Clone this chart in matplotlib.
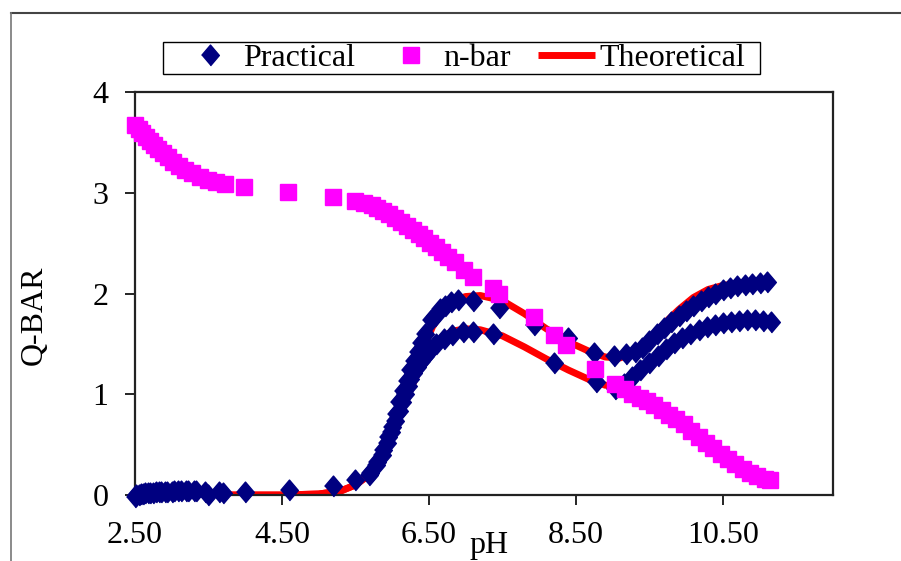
#!/usr/bin/env python
#importing libraries
import matplotlib
matplotlib.use('Agg')
import matplotlib.pyplot as plt
from matplotlib.lines import Line2D
from matplotlib.patches import Rectangle

plt.rcParams['font.family'] = ['Liberation Serif', 'DejaVu Serif']
plt.rcParams['font.size'] = 23

#Practical Q-bar, lower titration curve
pH_p1 = [2.52, 2.58, 2.64, 2.71, 2.78, 2.86, 2.94, 3.03, 3.12, 3.22, 3.33, 3.5, 3.7, 4.0,
         4.6, 5.2, 5.5, 5.68, 5.78, 5.86, 5.93, 5.99, 6.04, 6.09, 6.13, 6.17, 6.21, 6.25,
         6.29, 6.34, 6.39, 6.45, 6.52, 6.6, 6.7, 6.82, 6.96, 7.1, 7.37, 8.2, 8.78, 9.04,
         9.15, 9.27, 9.38, 9.5, 9.62, 9.73, 9.84, 9.95, 10.06, 10.17, 10.28, 10.39, 10.5,
         10.61, 10.72, 10.83, 10.94, 11.05, 11.15]
q_p1 = [0.0, 0.01, 0.02, 0.02, 0.03, 0.03, 0.03, 0.04, 0.04, 0.04, 0.04, 0.0, 0.02, 0.03,
        0.05, 0.09, 0.15, 0.2, 0.3, 0.4, 0.52, 0.63, 0.73, 0.83, 0.92, 1.0, 1.08, 1.15,
        1.21, 1.27, 1.33, 1.38, 1.44, 1.5, 1.55, 1.59, 1.62, 1.62, 1.6, 1.31, 1.12, 1.05,
        1.1, 1.17, 1.24, 1.31, 1.38, 1.45, 1.51, 1.56, 1.6, 1.64, 1.67, 1.69, 1.71,
        1.72, 1.73, 1.74, 1.74, 1.73, 1.72]

#Practical Q-bar, upper titration curve
pH_p2 = [2.5, 2.55, 2.61, 2.68, 2.75, 2.83, 2.91, 3.0, 3.09, 3.19, 3.3, 3.45, 3.65,
         5.7, 5.8, 5.88, 5.95, 6.0, 6.05, 6.1, 6.15, 6.2, 6.25, 6.3, 6.35, 6.39, 6.45,
         6.53, 6.58, 6.65, 6.72, 6.8, 6.9, 7.1, 7.45, 7.93, 8.39, 8.75, 9.02, 9.18, 9.3,
         9.4, 9.5, 9.6, 9.7, 9.8, 9.9, 10.0, 10.1, 10.2, 10.3, 10.4, 10.5, 10.6, 10.7,
         10.8, 10.9, 11.0, 11.1]
q_p2 = [-0.02, 0.0, 0.01, 0.02, 0.02, 0.03, 0.03, 0.03, 0.04, 0.04, 0.04, 0.03, 0.03,
        0.22, 0.33, 0.45, 0.58, 0.68, 0.8, 0.92, 1.03, 1.13, 1.24, 1.33, 1.42, 1.51, 1.6,
        1.74, 1.78, 1.85, 1.88, 1.92, 1.94, 1.93, 1.86, 1.69, 1.56, 1.41, 1.38, 1.4, 1.42,
        1.46, 1.53, 1.6, 1.66, 1.72, 1.78, 1.83, 1.88, 1.93, 1.97, 2.0, 2.03, 2.05, 2.07,
        2.08, 2.09, 2.1, 2.11]

#n-bar (average number of protons bound)
pH_n = [2.5, 2.55, 2.6, 2.65, 2.7, 2.76, 2.82, 2.88, 2.95, 3.02, 3.1, 3.18, 3.27, 3.38,
        3.5, 3.6, 3.72, 3.98, 4.58, 5.2, 5.5, 5.62, 5.72, 5.8, 5.88, 5.96, 6.04, 6.12,
        6.2, 6.28, 6.36, 6.44, 6.52, 6.6, 6.68, 6.76, 6.85, 6.98, 7.1, 7.37, 7.45, 7.93,
        8.2, 8.37, 8.76, 9.04, 9.17, 9.27, 9.37, 9.47, 9.57, 9.67, 9.77, 9.87, 9.97,
        10.07, 10.17, 10.27, 10.37, 10.47, 10.57, 10.67, 10.77, 10.87, 10.97, 11.07, 11.14]
n_bar = [3.67, 3.63, 3.59, 3.55, 3.51, 3.47, 3.43, 3.39, 3.35, 3.31, 3.27, 3.23, 3.2, 3.16,
         3.13, 3.11, 3.09, 3.06, 3.01, 2.96, 2.92, 2.9, 2.88, 2.85, 2.82, 2.79, 2.75, 2.71,
         2.67, 2.63, 2.59, 2.55, 2.5, 2.46, 2.41, 2.36, 2.31, 2.23, 2.16, 2.05, 2.0, 1.77,
         1.59, 1.49, 1.25, 1.1, 1.05, 1.0, 0.96, 0.93, 0.89, 0.84, 0.79, 0.75, 0.7,
         0.64, 0.58, 0.52, 0.47, 0.41, 0.36, 0.31, 0.26, 0.22, 0.19, 0.16, 0.15]

#Theoretical curves
pH_t1 = [2.55, 3.5, 4.5, 5.0, 5.3, 5.5, 5.65, 5.8, 5.95, 6.1, 6.25, 6.4, 6.55, 6.7, 6.85,
         7.0, 7.2, 7.5, 7.8, 8.1, 8.4, 8.7, 8.9, 9.05, 9.2, 9.4, 9.6, 9.8, 10.0, 10.2,
         10.4, 10.6, 10.8, 11.0, 11.15]
q_t1 = [0.0, 0.0, 0.0, 0.01, 0.04, 0.1, 0.18, 0.32, 0.52, 0.78, 1.05, 1.3, 1.48, 1.58, 1.63,
        1.65, 1.64, 1.58, 1.47, 1.35, 1.24, 1.14, 1.09, 1.08, 1.12, 1.22, 1.35, 1.48, 1.58,
        1.65, 1.7, 1.72, 1.73, 1.73, 1.72]
pH_t2 = [2.55, 3.5, 4.5, 5.0, 5.3, 5.5, 5.65, 5.8, 5.95, 6.1, 6.25, 6.4, 6.55, 6.7, 6.85,
         7.0, 7.2, 7.5, 7.8, 8.1, 8.4, 8.7, 8.9, 9.1, 9.3, 9.5, 9.7, 9.9, 10.1, 10.3,
         10.5, 10.7, 10.9, 11.1]
q_t2 = [0.0, 0.0, 0.0, 0.01, 0.04, 0.1, 0.18, 0.32, 0.52, 0.8, 1.1, 1.42, 1.67, 1.84, 1.93,
        1.97, 1.98, 1.93, 1.8, 1.65, 1.52, 1.42, 1.37, 1.36, 1.42, 1.55, 1.7, 1.84, 1.96,
        2.04, 2.08, 2.1, 2.11, 2.09]

x_ticks = [2.5, 4.5, 6.5, 8.5, 10.5]
y_ticks = [0, 1, 2, 3, 4]

fig = plt.figure(figsize=(9.01, 5.61), dpi=100)
ax = fig.add_axes([0.1498, 0.1176, 0.7747, 0.7184])

navy = '#000080'
magenta = '#FF00FF'
#slightly tall diamond, like the spreadsheet marker
diamond = [(-0.85, 0), (0, 1), (0.85, 0), (0, -1)]

#Practical points
ax.plot(pH_p1, q_p1, linestyle='none', marker=diamond, ms=15, color=navy, label='Practical',
        zorder=3, clip_on=False)
ax.plot(pH_p2, q_p2, linestyle='none', marker=diamond, ms=15, color=navy, label='_nolegend_',
        zorder=3, clip_on=False)
#n-bar points
ax.plot(pH_n, n_bar, linestyle='none', marker='s', ms=12, color=magenta, label='n-bar',
        zorder=4, clip_on=False)
#Theoretical lines
ax.plot(pH_t1, q_t1, color='red', lw=5, label='Theoretical', zorder=2, solid_capstyle='butt')
ax.plot(pH_t2, q_t2, color='red', lw=5, label='_nolegend_', zorder=2, solid_capstyle='butt')

#Plot parameters
ax.set_xlim(2.5, 12.0)
ax.set_ylim(0, 4)
ax.set_xticks(x_ticks)
ax.set_xticklabels(['%.2f' % t for t in x_ticks])
ax.set_yticks(y_ticks)
ax.set_yticklabels([str(t) for t in y_ticks])
ax.tick_params(direction='out', length=7, width=1.2, pad=12, labelsize=23)
for s in ax.spines.values():
    s.set_linewidth(1.6)
    s.set_color('#222222')

fig.text(489 / 901, 1 - 531 / 561, 'pH', ha='center', va='top', fontsize=23)
fig.text(34 / 901, 1 - 315 / 561, 'Q-BAR', ha='center', va='center', rotation=90, fontsize=23)

leg = ax.legend(loc='center', bbox_to_anchor=(0.514, 0.8966), bbox_transform=fig.transFigure,
                ncol=3, frameon=False, fontsize=23, borderpad=0, handlelength=1.8,
                handletextpad=0.12, columnspacing=0.85, borderaxespad=0)
#legend box drawn wider than the entries
fig.add_artist(Rectangle((163 / 901, 1 - 74 / 561), 597 / 901, 32 / 561, fill=False,
                         edgecolor='black', lw=1.0))

#Outer frame of the chart area
fig.add_artist(Line2D([11 / 901, 1.0], [1 - 13 / 561, 1 - 13 / 561], color='#444444', lw=1.5))
fig.add_artist(Line2D([11 / 901, 11 / 901], [0.0, 1 - 13 / 561], color='#777777', lw=1.2))

fig.savefig('out.png', dpi=100)
